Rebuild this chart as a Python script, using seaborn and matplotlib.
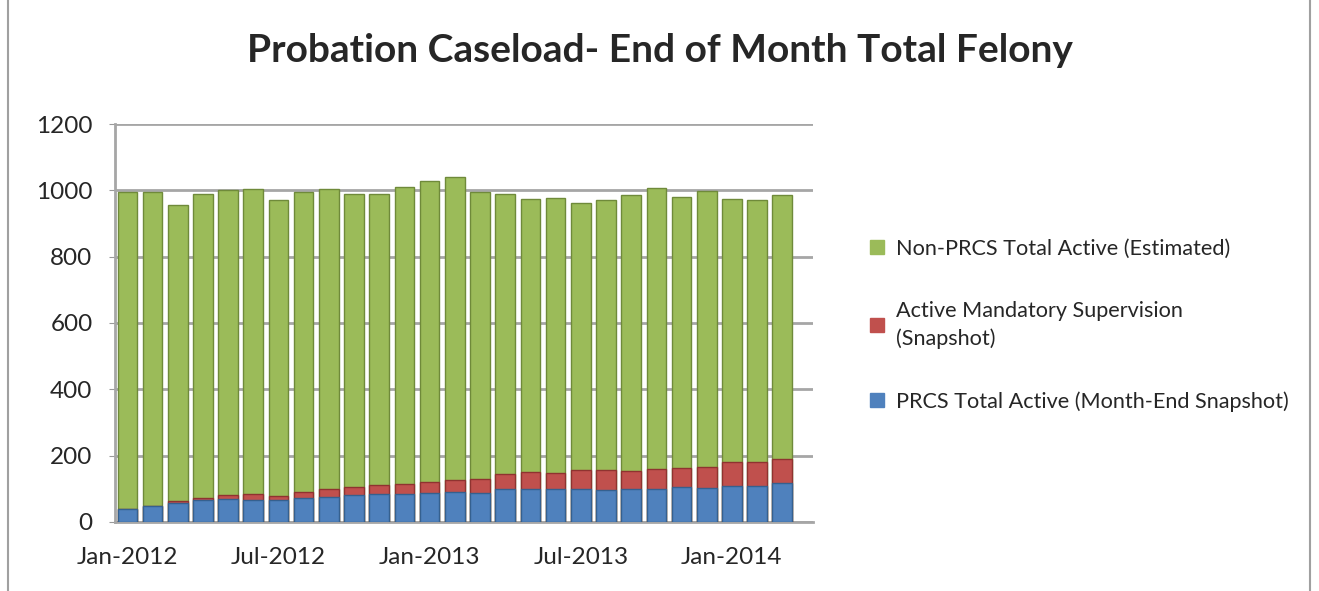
import numpy as np
import pandas as pd
import matplotlib.pyplot as plt
import seaborn as sns
from matplotlib.patches import Rectangle

# Monthly data
months = pd.date_range('2012-01-01', '2014-03-01', freq='MS').strftime('%b-%Y').tolist()
prcs = [40, 48, 58, 66, 69, 67, 66, 71, 76, 81, 84, 84, 88, 90,
        86, 99, 99, 99, 99, 96, 99, 99, 104, 102, 107, 109, 117]
mandatory = [0, 0, 4, 5, 12, 16, 13, 20, 22, 24, 27, 30, 32, 35,
             43, 46, 50, 48, 56, 59, 53, 60, 58, 63, 73, 71, 72]
totals = [995, 995, 955, 990, 1000, 1003, 970, 995, 1005, 988, 988, 1010, 1028, 1040,
          995, 990, 975, 978, 962, 970, 985, 1008, 980, 998, 975, 970, 985]

df = pd.DataFrame({'month': months, 'prcs': prcs, 'mand': mandatory, 'total': totals})
df['prcs_mand'] = df['prcs'] + df['mand']

green = '#9BBB59'
red = '#C0504D'
blue = '#4F81BD'

sns.set_style('white')
plt.rcParams['font.family'] = ['Lato', 'DejaVu Sans']

fig = plt.figure(figsize=(13.19, 5.91), dpi=100)
ax = fig.add_axes([0.087, 0.117, 0.529, 0.673])

# stacked look: draw cumulative layers on top of each other
sns.barplot(data=df, x='month', y='total', color=green, width=0.78, saturation=1,
            edgecolor='#6f8a3a', linewidth=1, ax=ax, zorder=3)
sns.barplot(data=df, x='month', y='prcs_mand', color=red, width=0.78, saturation=1,
            edgecolor='#8f3330', linewidth=1, ax=ax, zorder=4)
sns.barplot(data=df, x='month', y='prcs', color=blue, width=0.78, saturation=1,
            edgecolor='#35608f', linewidth=1, ax=ax, zorder=5)

ax.set_ylim(0, 1200)
ax.set_xlim(-0.5, 27.2)
ax.set_yticks(range(0, 1201, 200))
ax.yaxis.grid(True, color='#A6A6A6', linewidth=2)
ax.set_axisbelow(True)
ax.tick_params(axis='y', labelsize=17.5, length=4, color='#999999', left=True, pad=12)
ax.set_xticks(range(0, 27, 6))
ax.set_xticklabels([months[i] for i in range(0, 27, 6)], fontsize=17.5)
ax.tick_params(axis='x', length=0, pad=18)
ax.set_xlabel('')
ax.set_ylabel('')
for s in ['top', 'right']:
    ax.spines[s].set_visible(False)
for s in ['left', 'bottom']:
    ax.spines[s].set_color('#A6A6A6')
    ax.spines[s].set_linewidth(2)

fig.suptitle('Probation Caseload- End of Month Total Felony', fontsize=28,
             fontweight='bold', x=0.5, y=0.945)

handles = [Rectangle((0, 0), 1, 1, color=green),
           Rectangle((0, 0), 1, 1, color=red),
           Rectangle((0, 0), 1, 1, color=blue)]
labels = ['Non-PRCS Total Active (Estimated)',
          'Active Mandatory Supervision\n(Snapshot)',
          'PRCS Total Active (Month-End Snapshot)']
leg = fig.legend(handles, labels, loc='center left', bbox_to_anchor=(0.645, 0.45),
                 frameon=False, fontsize=15.6, handlelength=0.65, handleheight=0.65,
                 handletextpad=0.55, labelspacing=1.95)
for t in leg.get_texts():
    t.set_linespacing(1.45)

# chart frame
fig.patches.append(Rectangle((0.006, -0.01), 0.987, 1.02, transform=fig.transFigure,
                             fill=False, edgecolor='#A0A0A0', linewidth=1.5))

plt.savefig('out.png', dpi=100)
